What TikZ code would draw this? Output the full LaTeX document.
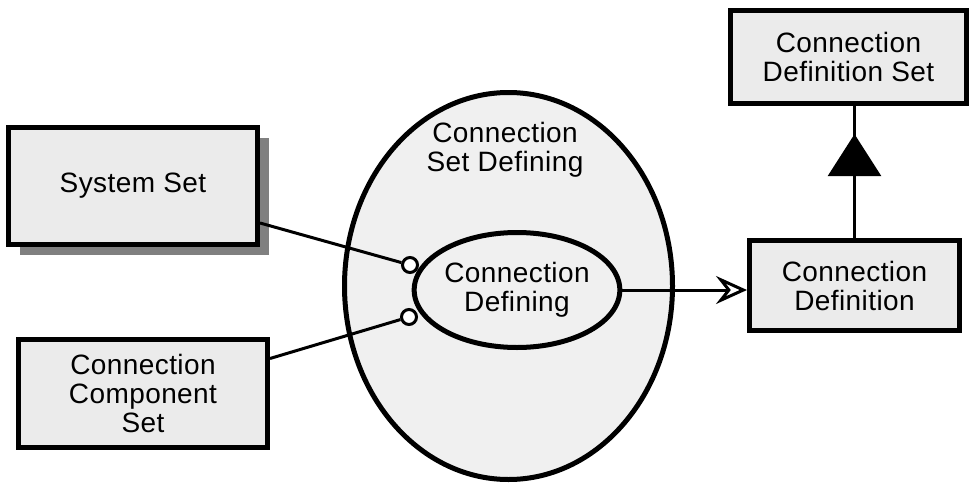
\documentclass[tikz,border=0pt]{standalone}
\usepackage{fontspec}
\setmainfont{Liberation Sans}[LetterSpace=1.5]
\usetikzlibrary{arrows.meta,shapes.geometric,shadows,decorations.markings,calc}

\begin{document}
\begin{tikzpicture}[x=1pt,y=-1pt,
  every node/.style={font=\fontsize{28}{29}\selectfont, align=center, inner sep=0pt},
  classbox/.style={draw=black, line width=5pt, fill=black!8, rectangle},
  actor/.style={draw=black, line width=5pt, fill=black!6, ellipse},
  port/.style={draw=black, line width=3pt, fill=white, circle, minimum size=15pt},
  link/.style={draw=black, line width=3pt},
]
\useasboundingbox (0,0) rectangle (971,487);

% process ellipses
\node[actor, minimum width=328pt, minimum height=387pt] (setdef) at (508.5,286) {};
\node (setlbl) at (505,150) {Connection\\Set Defining};
\node[actor, minimum width=205pt, minimum height=115pt] (def) at (517,290) {Connection\\Defining};

% ports on the inner process
\node[port] (p1) at (410,265) {};
\node[port] (p2) at (409,317) {};

% object boxes
\node[classbox, minimum width=249pt, minimum height=117pt,
      drop shadow={shadow xshift=11pt, shadow yshift=-10pt, fill=black!50, opacity=1}]
      (sys) at (133,186) {System Set};
\node[classbox, minimum width=249pt, minimum height=108pt] (ccs) at (143,393.5) {Connection\\Component\\Set};
\node[classbox, minimum width=236pt, minimum height=93pt] (cds) at (848.5,57) {Connection\\Definition Set};
\node[classbox, minimum width=210pt, minimum height=90pt] (cd) at (854.5,285.5) {Connection\\Definition};

% instrument links to the ports
\draw[link] ([yshift=-37pt]sys.east) -- (p1);
\draw[link] ([yshift=35pt]ccs.east) -- (p2);

% result link
\draw[link, -{Stealth[open, fill=white, length=31pt, width=28pt, inset=11pt]}]
  (def.east) -- (def.east -| cd.west);

% aggregation / specialisation link
\draw[link, decoration={markings, mark=at position 0.787 with
      {\arrow{Triangle[length=42pt, width=53pt]}}}, postaction={decorate}]
  (cd.north) -- (cd.north |- cds.south);
\end{tikzpicture}
\end{document}
